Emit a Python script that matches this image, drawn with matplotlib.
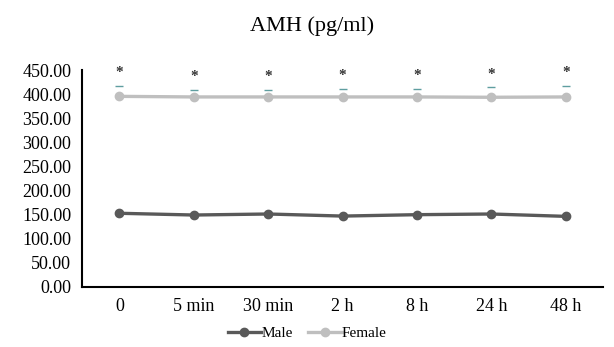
import numpy as np
import matplotlib
matplotlib.use("Agg")
import matplotlib.pyplot as plt

# --- dati ---
tempi = ["0", "5 min", "30 min", "2 h", "8 h", "24 h", "48 h"]
maschi = [152.9, 149.3, 151.4, 147.1, 150.0, 151.4, 146.5]
femmine = [395.5, 394.3, 394.3, 394.3, 394.3, 393.6, 394.3]
err_sup = [22.0, 14.5, 14.5, 17.5, 17.5, 20.5, 22.0]   # cap superiore delle barre d'errore
asterischi = [444, 436, 436, 439, 439, 441, 444]

plt.rcParams['font.family'] = ['Liberation Serif', 'DejaVu Serif']

fig = plt.figure(figsize=(6.14, 3.47), dpi=100)
ax = fig.add_axes([0.134, 0.173, 0.848, 0.625])

x = np.arange(len(tempi))

# cap delle barre d'errore (solo la parte visibile sopra la linea)
ax.scatter(x, np.array(femmine) + np.array(err_sup), marker='_', s=30,
           color='#5f9ea0', linewidths=1.0, zorder=2)
for xi, yi in zip(x, asterischi):
    ax.text(xi, yi, '*', ha='center', va='center', fontsize=11,
            fontweight='bold', color='#333333')

ax.plot(x, maschi, '-o', color='#595959', lw=2.4, markersize=6, label='Male', zorder=3)
ax.plot(x, femmine, '-o', color='#bfbfbf', lw=2.4, markersize=6, label='Female', zorder=3)

ax.set_xlim(-0.5, len(tempi) - 0.5)
ax.set_ylim(0, 450)
ax.set_yticks(np.arange(0, 451, 50))
ax.set_yticklabels([f"{v:.2f}" for v in np.arange(0, 451, 50)])
ax.set_xticks(x)
ax.set_xticklabels(tempi)
ax.tick_params(length=0, labelsize=13, pad=8)
ax.tick_params(axis='x', pad=8)

for s in ['top', 'right']:
    ax.spines[s].set_visible(False)
for s in ['left', 'bottom']:
    ax.spines[s].set_linewidth(1.5)
    ax.spines[s].set_color('black')

fig.text(0.508, 0.925, "AMH (pg/ml)", ha='center', va='center', fontsize=16)

fig.legend(loc='center', bbox_to_anchor=(0.5, 0.04), ncol=2, frameon=False,
           fontsize=11, handlelength=2.2, handletextpad=0.0, columnspacing=1.0)

fig.savefig("out.png", dpi=100)
